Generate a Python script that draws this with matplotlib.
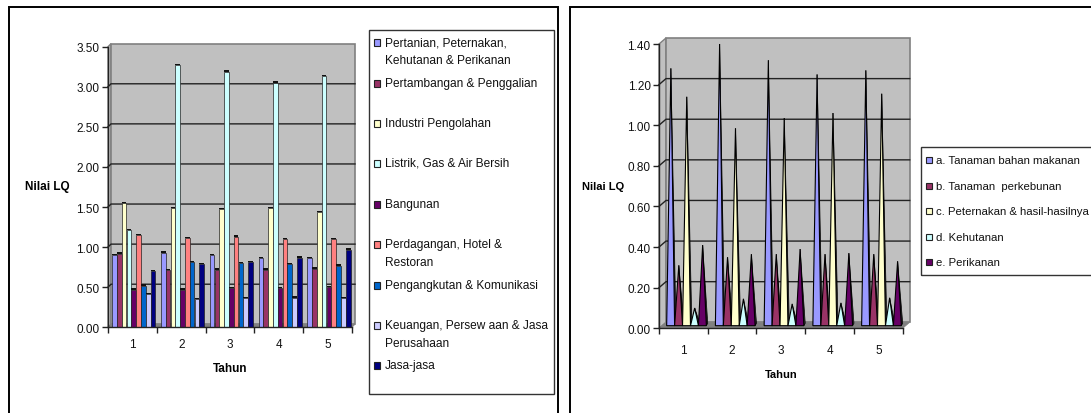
import matplotlib
matplotlib.use("Agg")
import matplotlib.pyplot as plt
from matplotlib.patches import Rectangle, Polygon
import numpy as np

W, H = 1091, 414
plt.rcParams['font.family'] = ['Liberation Sans', 'DejaVu Sans']

years = ['1', '2', '3', '4', '5']

sector_names = ['Pertanian, Peternakan,\nKehutanan & Perikanan', 'Pertambangan & Penggalian',
                'Industri Pengolahan', 'Listrik, Gas & Air Bersih', 'Bangunan',
                'Perdagangan, Hotel &\nRestoran', 'Pengangkutan & Komunikasi',
                'Keuangan, Persew aan & Jasa\nPerusahaan', 'Jasa-jasa']
sector_colors = ['#9999FF', '#993366', '#FFFFCC', '#CCFFFF', '#660066', '#FF8080', '#0066CC', '#CCCCFF', '#000080']
pertanian = [0.90, 0.93, 0.90, 0.86, 0.86]
pertambangan = [0.92, 0.71, 0.72, 0.72, 0.73]
industri = [1.55, 1.49, 1.47, 1.49, 1.44]
listrik = [1.21, 3.27, 3.19, 3.05, 3.13]
bangunan = [0.47, 0.47, 0.49, 0.49, 0.50]
perdagangan = [1.15, 1.11, 1.13, 1.10, 1.10]
pengangkutan = [0.52, 0.81, 0.80, 0.79, 0.77]
keuangan = [0.41, 0.35, 0.36, 0.37, 0.36]
jasa = [0.70, 0.79, 0.81, 0.87, 0.97]
sector_values = [pertanian, pertambangan, industri, listrik, bangunan, perdagangan, pengangkutan, keuangan, jasa]

sub_names = ['a. Tanaman bahan makanan', 'b. Tanaman  perkebunan', 'c. Peternakan & hasil-hasilnya',
             'd. Kehutanan', 'e. Perikanan']
sub_colors = ['#9999FF', '#993366', '#FFFFCC', '#CCFFFF', '#660066']
tanaman = [1.28, 1.40, 1.32, 1.25, 1.27]
perkebunan = [0.31, 0.35, 0.365, 0.365, 0.365]
peternakan = [1.14, 0.985, 1.035, 1.06, 1.155]
kehutanan = [0.10, 0.145, 0.12, 0.125, 0.15]
perikanan = [0.41, 0.365, 0.39, 0.37, 0.33]
sub_values = [tanaman, perkebunan, peternakan, kehutanan, perikanan]

fig = plt.figure(figsize=(W / 100, H / 100), dpi=100, facecolor='white')


def px_axes(x0, x1, ytop, ybot):
    return fig.add_axes([x0 / W, 1 - ybot / H, (x1 - x0) / W, (ybot - ytop) / H])


def frame(x0, x1, y0, y1, lw=1.4, ec='black', **kw):
    fig.add_artist(Rectangle((x0 / W, 1 - y1 / H), (x1 - x0) / W, (y1 - y0) / H,
                             transform=fig.transFigure, fill=False, ec=ec, lw=lw, **kw))


def setup(ax, ymax, step, ex, ey, pad):
    ax.set_xlim(0, 5)
    ax.set_ylim(0, ymax)
    ax.patch.set_visible(False)
    ticks = np.arange(0, ymax + 1e-6, step)
    # side wall, back wall and floor of the 3D box
    ax.add_patch(Polygon([(0, 0), (ex, ey), (ex, ymax + ey), (0, ymax)], fc='#C0C0C0', ec='#808080', lw=1.0,
                         clip_on=False, zorder=0))
    ax.add_patch(Rectangle((ex, ey), 5, ymax, fc='#C0C0C0', ec='#808080', lw=1.2, clip_on=False, zorder=0.1))
    ax.add_patch(Polygon([(0, 0), (5, 0), (5 + ex, ey), (ex, ey)], fc='#808080', ec='#808080', lw=0.5,
                         clip_on=False, zorder=0.2))
    for t in ticks[1:-1]:
        ax.plot([0, ex, 5 + ex], [t, t + ey, t + ey], color='#222222', lw=1.0, clip_on=False, zorder=1)
    for s in ('top', 'right'):
        ax.spines[s].set_visible(False)
    for s in ('left', 'bottom'):
        ax.spines[s].set_color('#222222')
        ax.spines[s].set_linewidth(1.0)
        ax.spines[s].set_zorder(6)
    ax.set_yticks(ticks)
    ax.set_yticklabels([f'{t:.2f}' for t in ticks], fontsize=8.5, color='#111111')
    ax.set_xticks(range(6))
    ax.set_xticklabels([])
    ax.set_xticks(np.arange(5) + 0.5, minor=True)
    ax.set_xticklabels(years, minor=True, fontsize=8.5, color='#111111')
    ax.tick_params(axis='x', which='minor', length=0, pad=pad)
    ax.tick_params(axis='x', which='major', length=4, width=1, color='#222222')
    ax.tick_params(axis='y', length=4, width=1, color='#222222', pad=2)


# ---------- left panel ----------
frame(8.5, 557.5, 8, 425)
ax1 = px_axes(108, 352, 47.7, 328.3)
setup(ax1, 3.5, 0.5, 3 / 244 * 5, 3 / 280.6 * 3.5, 8)
bw = 0.0985
start = 0.085
cap = 1.3 / 280.6 * 3.5
for i, (vals, col) in enumerate(zip(sector_values, sector_colors)):
    xs = np.arange(5) + start + i * bw
    ax1.bar(xs, vals, width=bw * 0.98, align='edge', color=col, ec='#222222', lw=0.5, zorder=3 + i * 0.01,
            clip_on=False)
    ax1.bar(xs, [cap] * 5, bottom=vals, width=bw * 0.98, align='edge', color='#111111', lw=0,
            zorder=3.5 + i * 0.01, clip_on=False)
ax1.set_xlabel('Tahun', fontsize=8.5, fontweight='bold', labelpad=8)
fig.text(47 / W, 1 - 187.5 / H, 'Nilai LQ', fontsize=8.5, fontweight='bold', ha='center', va='center')

frame(368.8, 553.7, 31.3, 395, lw=1.0, ec='#333333')
leg_y = [43, 84, 124, 164, 205, 245, 286, 326, 366]
for name, col, y in zip(sector_names, sector_colors, leg_y):
    fig.add_artist(Rectangle((373.5 / W, 1 - (y + 3.5) / H), 6 / W, 7 / H, transform=fig.transFigure,
                             fc=col, ec='#222222', lw=0.8))
    fig.text(385 / W, 1 - (y - 6) / H, name, fontsize=8.6, color='#111111', va='top', ha='left',
             linespacing=1.72)

# ---------- right panel ----------
frame(569.5, 1095, 8, 425)
ax2 = px_axes(659, 902.7, 45, 329.3)
setup(ax2, 1.4, 0.2, 7 / 243.7 * 5, 6 / 284.3 * 1.4, 11)
cw = 0.163
cstart = 0.157
y0 = 2.6 / 284.3 * 1.4
for i, (vals, col) in enumerate(zip(sub_values, sub_colors)):
    for k, v in enumerate(vals):
        x0 = k + cstart + i * cw
        x1 = x0 + cw
        xm = x0 + cw * 0.53
        shadow = Polygon([(xm, v), (x1, y0), (x1 + 0.028, y0 + 0.012)], closed=True, fc='#333333', ec='black',
                         lw=0.5, zorder=3 + i * 0.1, clip_on=False)
        front = Polygon([(x0, y0), (x1, y0), (xm, v)], closed=True, fc=col, ec='black', lw=0.8,
                        zorder=3.05 + i * 0.1, clip_on=False)
        ax2.add_patch(shadow)
        ax2.add_patch(front)
ax2.set_xlabel('Tahun', fontsize=8, fontweight='bold', labelpad=10)
fig.text(603 / W, 1 - 187.5 / H, 'Nilai LQ', fontsize=8, fontweight='bold', ha='center', va='center')

frame(920.7, 1100, 148.3, 276, lw=1.0, ec='#333333')
sub_y = [161, 187, 212, 238, 263]
for name, col, y in zip(sub_names, sub_colors, sub_y):
    fig.add_artist(Rectangle((926 / W, 1 - (y + 3) / H), 6 / W, 6.5 / H, transform=fig.transFigure,
                             fc=col, ec='#222222', lw=0.8))
    fig.text(936 / W, 1 - y / H, name, fontsize=8.2, color='#111111', va='center', ha='left')

fig.savefig('out.png', dpi=100)
